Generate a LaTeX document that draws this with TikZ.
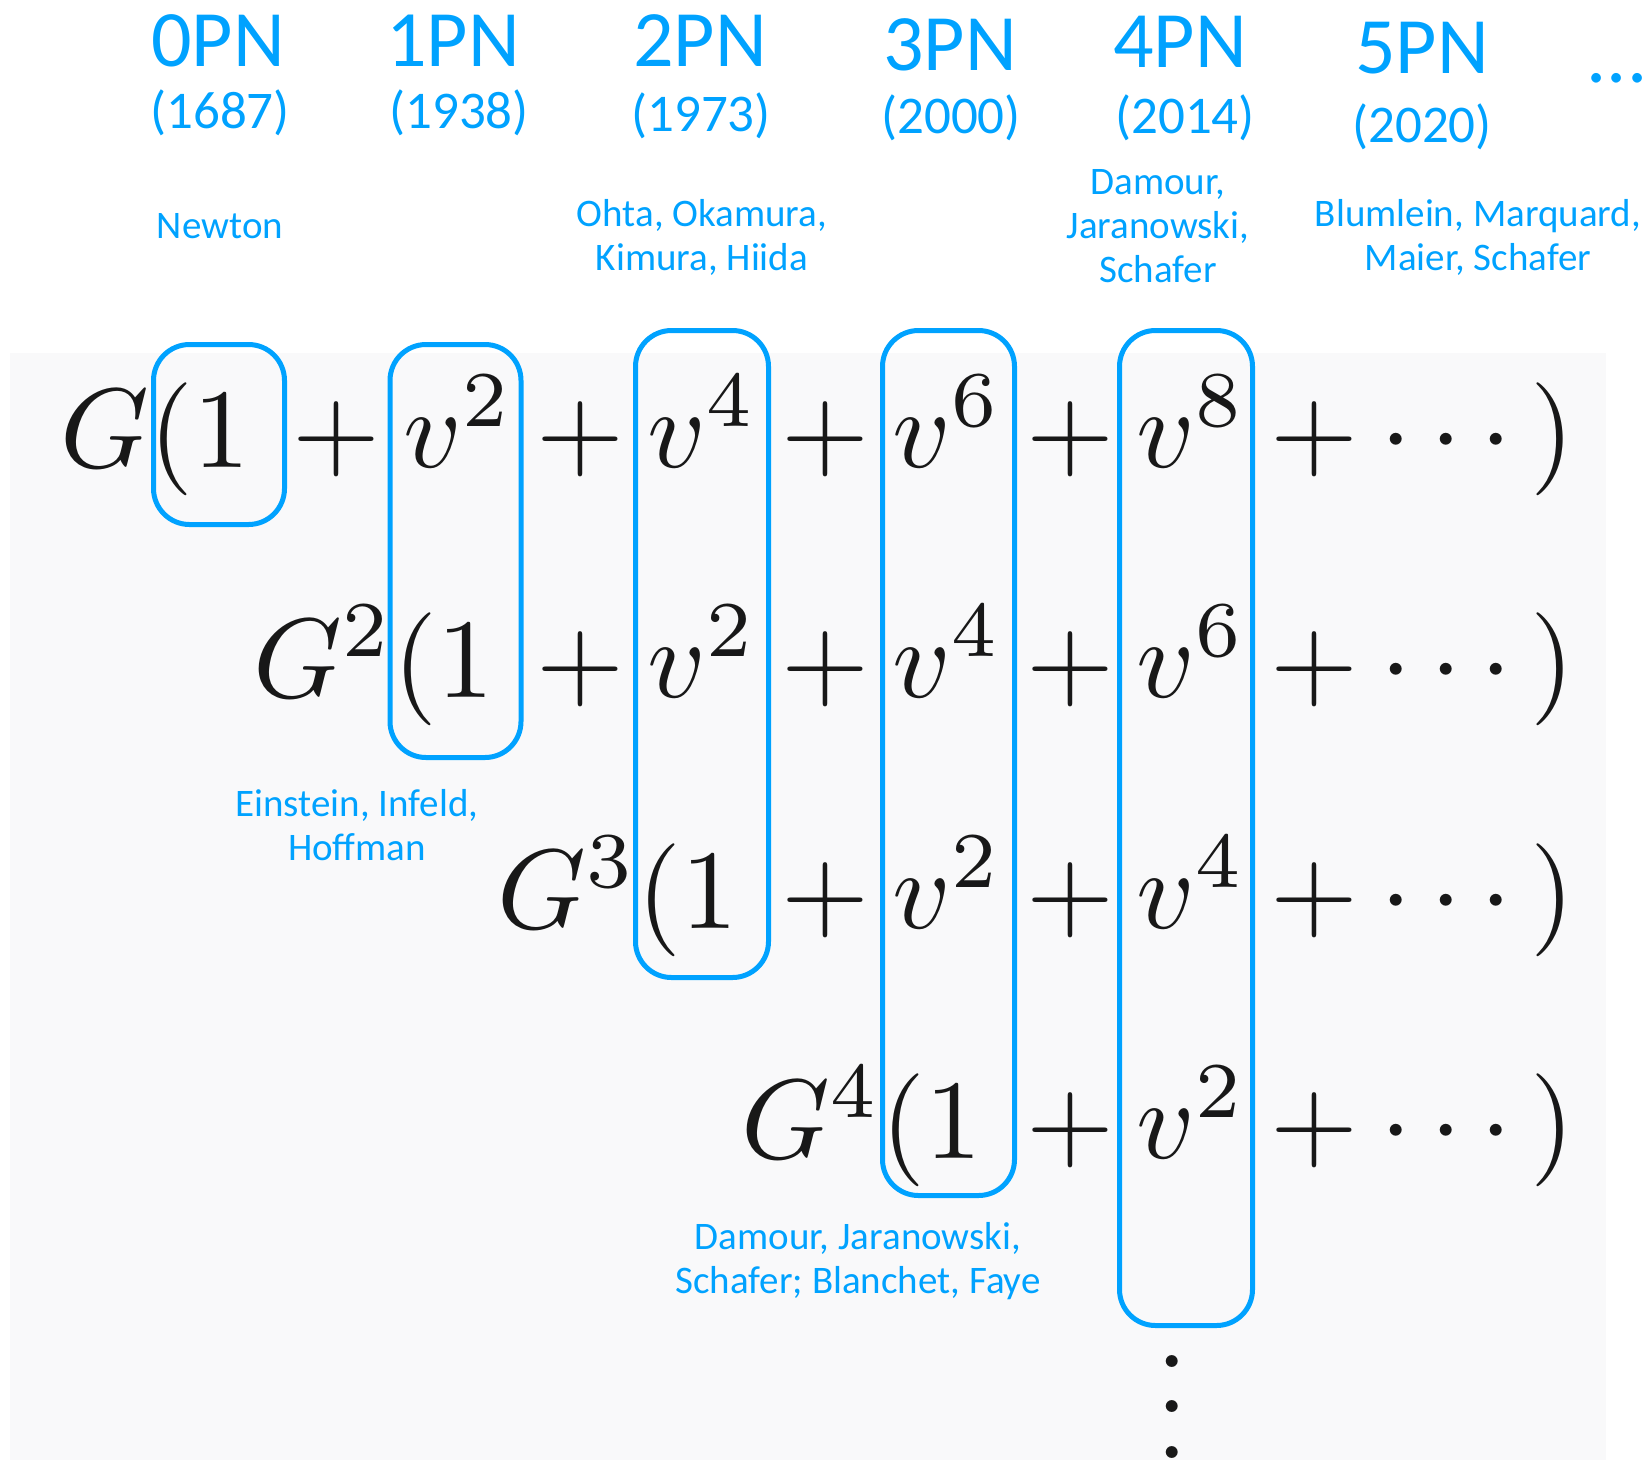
\documentclass[tikz,border=0pt]{standalone}
\usepackage{graphicx}
\usepackage{fontspec}
\newfontfamily\labelfont{Carlito}
\definecolor{pnblue}{RGB}{0,162,255}
\definecolor{panel}{RGB}{249,249,250}
\definecolor{ink}{RGB}{24,24,24}
% math pieces are set at 10pt and enlarged
\newcommand\eqpart[1]{\scalebox{11.3}{$#1$}}

\tikzset{
  pnbox/.style={draw=pnblue, line width=5pt, rounded corners=36pt, inner sep=0pt},
  order/.style={font=\labelfont\fontsize{80}{80}\selectfont, text=pnblue, anchor=base, inner sep=0pt},
  year/.style={font=\labelfont\fontsize{53}{53}\selectfont, text=pnblue, anchor=base, inner sep=0pt},
  authors/.style={font=\labelfont\fontsize{39}{44}\selectfont, text=pnblue, anchor=base, inner sep=0pt},
  term/.style={text=ink, inner sep=0pt},
}

\begin{document}
\begin{tikzpicture}[x=1pt, y=-1pt]
\useasboundingbox (0,0) rectangle (1650,1460);
\fill[panel] (10,353) rectangle (1606,1460);

% orders and years
\node[order] (pn0) at (218,66) {0PN};
\node[order] (pn1) at (453,66) {1PN};
\node[order] (pn2) at (700,66) {2PN};
\node[order] (pn3) at (950,70) {3PN};
\node[order] (pn4) at (1180,67) {4PN};
\node[order] (pn5) at (1422,73) {5PN};
\node[order] (pnmore) at (1617,82) {...};

\node[year] (y0) at (220,128) {(1687)};
\node[year] (y1) at (459,128) {(1938)};
\node[year] (y2) at (701,131) {(1973)};
\node[year] (y3) at (951,133) {(2000)};
\node[year] (y4) at (1185,133) {(2014)};
\node[year] (y5) at (1422,142) {(2020)};

% authors
\node[authors] (a0) at (220,238) {Newton};
\node[authors] (a2) at (702,270) {\begin{tabular}[b]{@{}c@{}}Ohta, Okamura,\\Kimura, Hiida\end{tabular}};
\node[authors] (a4) at (1158,282) {\begin{tabular}[b]{@{}c@{}}Damour,\\Jaranowski,\\Schafer\end{tabular}};
\node[authors] (a5) at (1478,270) {\begin{tabular}[b]{@{}c@{}}Blumlein, Marquard,\\Maier, Schafer\end{tabular}};
\node[authors] (a1) at (357,860) {\begin{tabular}[b]{@{}c@{}}Einstein, Infeld,\\Hoffman\end{tabular}};
\node[authors] (a3) at (858,1293) {\begin{tabular}[b]{@{}c@{}}Damour, Jaranowski,\\Schafer; Blanchet, Faye\end{tabular}};

% the expansion, one row per power of G
\foreach \r/\yy in {1/467,2/697,3/928,4/1158} {
  \pgfmathtruncatemacro\k{\r-1}
  \node[term, anchor=base east] (g\r) at ({250+244*\k},\yy)
    {\eqpart{\ifnum\r=1 G\else G^{\r}\fi(1}};
  \foreach \j in {\k,...,4} {
    \node[term, anchor=base] (p\r-\j) at ({336+244.7*\j},\yy) {\eqpart{+}};
  }
  \foreach \c in {\r,...,4} {
    \pgfmathtruncatemacro\ex{2*(\c-\r+1)}
    \node[term, anchor=base west] (v\r-\c) at ({403+244.5*(\c-1)},\yy) {\eqpart{v^{\ex}}};
  }
  \node[term, anchor=base west] (tail\r) at (1380,\yy)
    {\eqpart{{\cdot}\mkern3mu{\cdot}\mkern3mu{\cdot}\mkern3mu)}};
}
\node[term, anchor=base] (vd) at (1172,1458) {\eqpart{\vdots}};

% boxes grouping each post-Newtonian order
\node[pnbox, minimum width=131pt, minimum height=180pt] (b0) at (219,434.5) {};
\node[pnbox, minimum width=131pt, minimum height=413pt] (b1) at (455.5,551) {};
\node[pnbox, minimum width=133pt, minimum height=647pt] (b2) at (702,654) {};
\node[pnbox, minimum width=132pt, minimum height=865pt] (b3) at (948.5,763) {};
\node[pnbox, minimum width=133pt, minimum height=995pt] (b4) at (1186,828) {};
\end{tikzpicture}
\end{document}
